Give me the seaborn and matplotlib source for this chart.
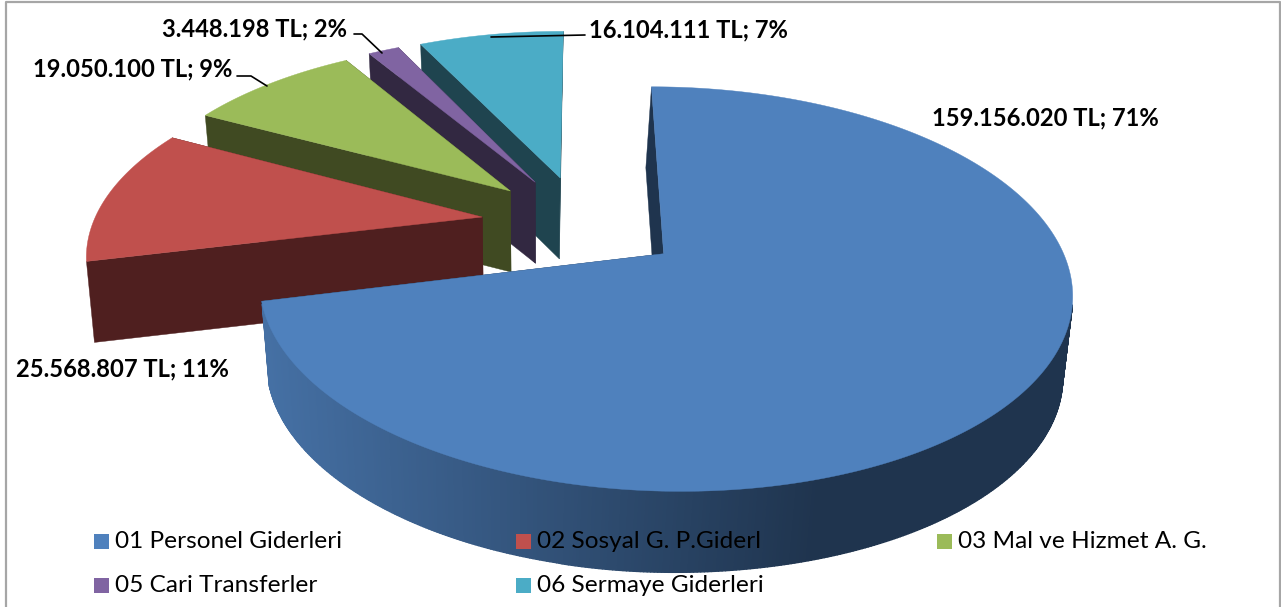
import numpy as np
import seaborn as sns
from matplotlib import pyplot as plt
from matplotlib.collections import PolyCollection
from matplotlib.colors import to_rgb
from matplotlib.patches import Polygon, Rectangle

categories = ['01 Personel Giderleri', '02 Sosyal G. P.Giderl', '03 Mal ve Hizmet A. G.',
              '05 Cari Transferler', '06 Sermaye Giderleri']
values = [159156020, 25568807, 19050100, 3448198, 16104111]
top_colors = ['#4f81bd', '#c0504d', '#9bbb59', '#8064a2', '#4bacc6']
side_colors = ['#1f344e', '#4f1f1f', '#404a22', '#322841', '#1f444f']

# label text position (left edge, middle), leader line points, pixels
label_pos = [(932, 118), (16, 369), (33, 69), (162, 29), (589, 30)]
leaders = [None, None,
           [(237, 76), (251, 76), (267, 86)],
           [(354, 34), (362, 34), (382, 53)],
           [(585, 35), (491, 37)]]
legend_pos = [(94, 541), (516, 541), (937, 541), (94, 585), (516, 585)]

# the 3d look: every slice sits on a disc, seen in perspective
CX, CY = 582, 223
A, B, K = 389, 185.5, 0.17
EXPLODE = 0.26
DEPTH = 81


def project(u, v):
    w = 1 + K * v
    return CX + A * u / w, CY - B * v / w


def lean(x):
    # vertical edges are not quite vertical in the original
    return np.interp(x, [90, 260, 487, 556, 566, 660, 1072], [8, 7, 1, 0, -2, -6, -10])


def slice_outline(start, end):
    mid = np.radians((start + end) / 2)
    ou, ov = EXPLODE * np.sin(mid), EXPLODE * np.cos(mid)
    deg = np.linspace(start, end, 600)
    t = np.radians(deg)
    arc_x, arc_y = project(ou + np.sin(t), ov + np.cos(t))
    apex_x, apex_y = project(ou, ov)
    return (apex_x, apex_y), arc_x, arc_y, np.cos(t)


def lower(x, y):
    return x + lean(x), y + DEPTH


def blue_shade(x):
    c0, c1 = to_rgb('#4570a4'), to_rgb('#1f344e')
    f = np.clip((x - 265) / (820 - 265), 0, 1)
    return tuple(a + (b - a) * f for a, b in zip(c0, c1))


def draw_slice(ax, start, end, top, side, gradient=False):
    (ax0, ay0), arc_x, arc_y, facing = slice_outline(start, end)
    bx0, by0 = lower(ax0, ay0)
    low_x, low_y = lower(arc_x, arc_y)

    # the two cut faces
    for i in (0, -1):
        ax.add_patch(Polygon([(ax0, ay0), (arc_x[i], arc_y[i]), (low_x[i], low_y[i]), (bx0, by0)],
                             closed=True, fc=side, ec=side, lw=0.3))

    # outer wall in small strips, only the part that faces the viewer
    quads = []
    colors = []
    for i in range(len(arc_x) - 1):
        if facing[i] > -0.25:
            continue
        quads.append([(arc_x[i], arc_y[i]), (arc_x[i + 1], arc_y[i + 1]),
                      (low_x[i + 1], low_y[i + 1]), (low_x[i], low_y[i])])
        colors.append(blue_shade(arc_x[i]) if gradient else side)
    if quads:
        ax.add_collection(PolyCollection(quads, facecolors=colors, edgecolors=colors, linewidths=1.0))

    # top face
    pts = [(ax0, ay0)] + list(zip(arc_x, arc_y))
    ax.add_patch(Polygon(pts, closed=True, fc=top, ec=top, lw=0.3))


sns.set_theme(style='white')
plt.rcParams['font.family'] = ['Lato', 'DejaVu Sans']

fig = plt.figure(figsize=(12.81, 6.07), dpi=100)
ax = fig.add_axes([0, 0, 1, 1])
ax.set_xlim(0, 1281)
ax.set_ylim(607, 0)
ax.axis('off')

total = sum(values)
bounds = np.concatenate([[0], np.cumsum(values) / total * 360])

# back slices first, the big one last
for i in [4, 3, 2, 1, 0]:
    draw_slice(ax, bounds[i], bounds[i + 1], top_colors[i], side_colors[i], gradient=i == 0)

for i, val in enumerate(values):
    txt = f'{val:,}'.replace(',', '.') + f' TL; {round(val / total * 100)}%'
    ax.text(label_pos[i][0], label_pos[i][1], txt, fontsize=17.1, fontweight='bold',
            color='black', ha='left', va='center')
    if leaders[i]:
        lx, ly = zip(*leaders[i])
        ax.plot(lx, ly, color='black', lw=1.2)

for i, name in enumerate(categories):
    x, y = legend_pos[i]
    ax.add_patch(Rectangle((x, y - 7.5), 15, 15, fc=top_colors[i], ec='none'))
    ax.text(x + 21, y + 1, name, fontsize=17.6, color='black', ha='left', va='center')

# chart frame
ax.plot([6, 6, 1280, 1280], [607, 2, 2, 607], color='#a6a6a6', lw=1.6)

fig.savefig('out.png', dpi=100)
